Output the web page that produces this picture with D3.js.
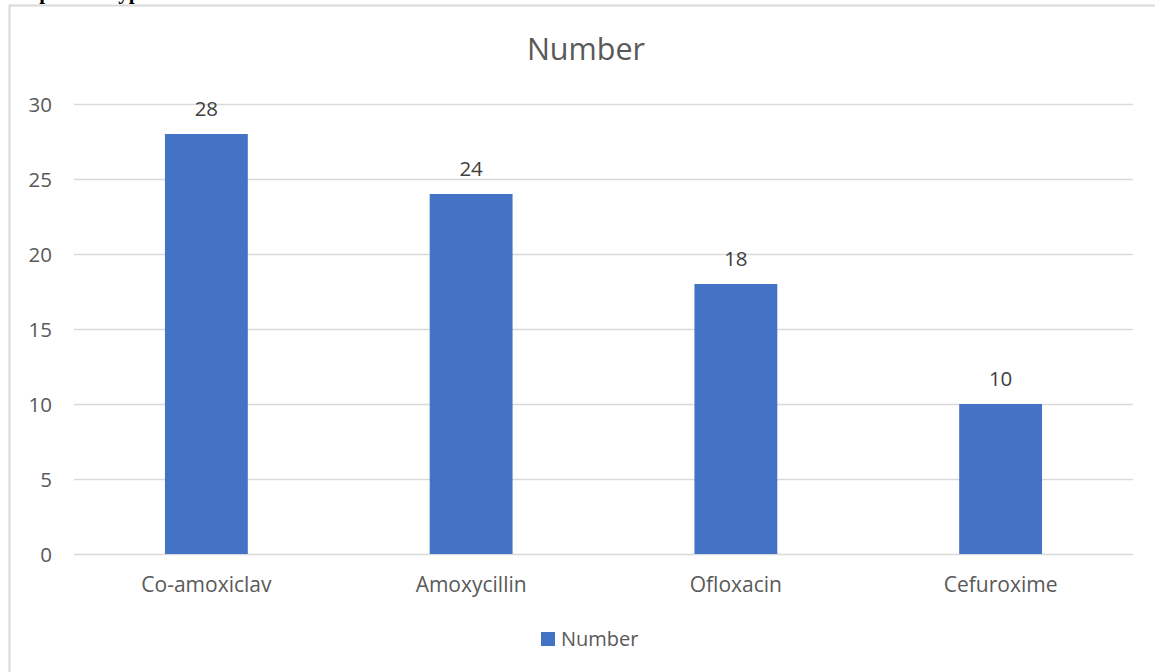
<!DOCTYPE html>
<html>
<head>
<meta charset="utf-8">
<script src="https://cdn.jsdelivr.net/npm/d3@7"></script>
<style>
  html, body { margin: 0; padding: 0; background: #fff; overflow: hidden; }
  svg { display: block; }
</style>
</head>
<body>
<svg id="chart" width="1155" height="672"></svg>
<script>
const categories = ["Co-amoxiclav", "Amoxycillin", "Ofloxacin", "Cefuroxime"];
const values = [28, 24, 18, 10];
const yTicks = [0, 5, 10, 15, 20, 25, 30];
const seriesName = "Number";
const chartTitle = "Number";
const captionText = "Graph 4.1: Types of antibiotics";

const W = 1155, H = 672;
const margin = { left: 74, right: 1133, top: 104, bottom: 554 };
const svg = d3.select("#chart");
const font = "'Open Sans', 'Noto Sans', sans-serif";
const grey = "#595959";

// caption of the document, cut off by the top edge in the reference
svg.append("text")
  .attr("x", 3).attr("y", -1)
  .attr("font-family", "'Liberation Serif', 'Times New Roman', serif")
  .attr("font-weight", "bold").attr("font-size", 21)
  .attr("fill", "#000")
  .text(captionText);

// chart frame
svg.append("rect")
  .attr("x", 9.5).attr("y", 5.5).attr("width", W).attr("height", H)
  .attr("fill", "none").attr("stroke", "#d9d9d9").attr("stroke-width", 2);

const x = d3.scaleBand().domain(categories).range([margin.left, margin.right]).padding(0);
const y = d3.scaleLinear().domain([0, 30]).range([margin.bottom, margin.top]);
const barW = x.bandwidth() * 0.313;

// gridlines + y tick labels
const yAxis = d3.axisLeft(y).tickValues(yTicks).tickSize(-(margin.right - margin.left)).tickPadding(22);
const gy = svg.append("g").attr("transform", `translate(${margin.left},0)`).call(yAxis);
gy.select(".domain").remove();
gy.selectAll(".tick line").attr("stroke", "#d9d9d9").attr("stroke-width", 1.5);
gy.selectAll(".tick text")
  .attr("font-family", font).attr("font-size", 20.5).attr("fill", grey)
  .attr("dy", "0.35em");

// bars
svg.append("g").selectAll("rect").data(values).join("rect")
  .attr("x", (d, i) => x(categories[i]) + x.bandwidth() / 2 - barW / 2)
  .attr("y", d => y(d))
  .attr("width", barW)
  .attr("height", d => y(0) - y(d))
  .attr("fill", "#4472c4");

// data labels
svg.append("g").selectAll("text").data(values).join("text")
  .attr("x", (d, i) => x(categories[i]) + x.bandwidth() / 2)
  .attr("y", d => y(d) - 18)
  .attr("text-anchor", "middle")
  .attr("font-family", font).attr("font-size", 20.5).attr("fill", "#404040")
  .text(d => d);

// x axis labels
const xAxis = d3.axisBottom(x).tickSize(0).tickPadding(0);
const gx = svg.append("g").attr("transform", `translate(0,${margin.bottom})`).call(xAxis);
gx.select(".domain").remove();
gx.selectAll(".tick text")
  .attr("font-family", font).attr("font-size", 21).attr("fill", grey)
  .attr("dy", null).attr("y", 38);

// title
svg.append("text")
  .attr("x", 586).attr("y", 60)
  .attr("text-anchor", "middle")
  .attr("font-family", font).attr("font-size", 30.5).attr("fill", grey)
  .text(chartTitle);

// legend
const lg = svg.append("g");
lg.append("rect").attr("x", 541).attr("y", 632).attr("width", 14).attr("height", 14).attr("fill", "#4472c4");
lg.append("text").attr("x", 561).attr("y", 646)
  .attr("font-family", font).attr("font-size", 20).attr("fill", grey)
  .text(seriesName);
</script>
</body>
</html>
